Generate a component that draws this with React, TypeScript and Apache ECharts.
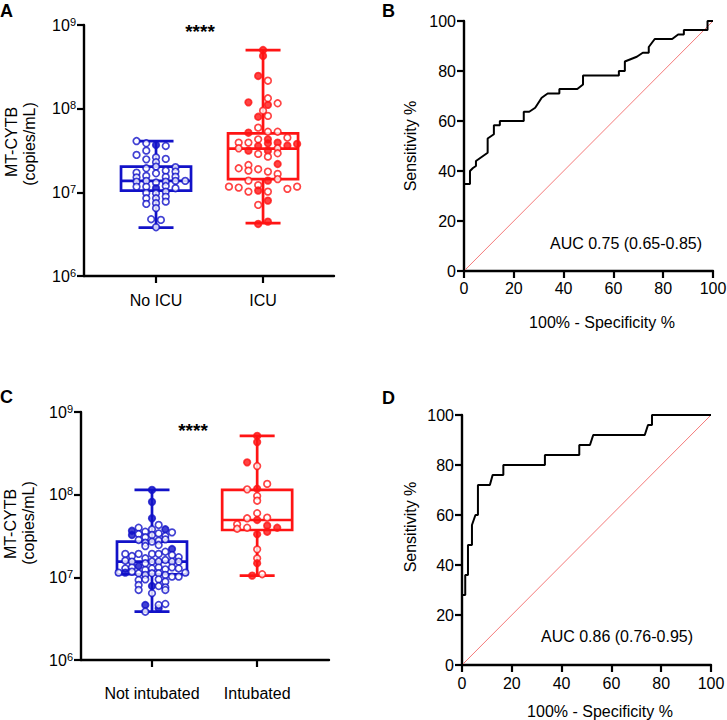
import React, { useEffect, useRef } from 'react';
import * as echarts from 'echarts';

const FONT = '"Liberation Sans", Arial, Helvetica, sans-serif';
const BLUE = '#1212c8';
const RED = '#ff1414';
const DIAG = '#f47a7a';

const catsA = ['No ICU', 'ICU'];
const catsC = ['Not intubated', 'Intubated'];

// box stats: [min, q1, median, q3, max]
const boxNoIcu = [3.78e6, 1.05e7, 1.37e7, 2.03e7, 4.1e7];
const boxIcu = [4.28e6, 1.44e7, 3.33e7, 5.08e7, 5.02e8];
const boxNotIntub = [3.84e6, 1.09e7, 1.55e7, 2.7e7, 1.14e8];
const boxIntub = [1.05e7, 3.74e7, 4.94e7, 1.14e8, 5.13e8];

// points: [column offset, copies/mL, filled (1) / open (0)]
const ptsNoIcu = [
  [-2, 4.1e7, 0], [-1, 3.86e7, 0], [0, 3.68e7, 1], [1, 3.58e7, 0], [-1, 3.15e7, 0],
  [-2, 2.8e7, 0], [-1, 2.48e7, 0], [0, 2.62e7, 0], [1, 2.51e7, 0], [0, 2.29e7, 0],
  [-1, 1.94e7, 0], [0, 2.03e7, 0], [1, 1.82e7, 0], [2, 2.0e7, 0], [-2, 1.72e7, 0],
  [0, 1.69e7, 0], [2, 1.77e7, 0], [-2, 1.51e7, 0], [-1, 1.57e7, 0], [1, 1.53e7, 0],
  [2, 1.54e7, 0], [-2, 1.34e7, 0], [-1, 1.37e7, 0], [0, 1.31e7, 0], [1, 1.34e7, 0],
  [2, 1.37e7, 0], [3, 1.37e7, 0], [-2, 1.17e7, 0], [-1, 1.17e7, 0], [0, 1.12e7, 1],
  [1, 1.19e7, 0], [2, 1.12e7, 0], [-1, 9.84e6, 0], [0, 9.75e6, 0], [1, 1.02e7, 0],
  [-1, 8.49e6, 0], [0, 8.49e6, 0], [1, 8.89e6, 0], [-1, 7.27e6, 0], [0, 7.42e6, 0],
  [1, 7.74e6, 0], [0, 6.46e6, 0], [-0.5, 4.77e6, 0], [0.5, 4.68e6, 0], [0, 3.83e6, 0],
];
const ptsIcu = [
  [0, 5.02e8, 1], [0, 4.27e8, 1], [-0.5, 2.46e8, 1], [0.5, 2.16e8, 0], [-1.5, 1.19e8, 1],
  [0.5, 1.33e8, 0], [0.5, 1.11e8, 1], [1.5, 1.16e8, 0], [0, 9.46e7, 0], [-0.5, 8.0e7, 1],
  [0.5, 8.2e7, 0], [-0.5, 5.93e7, 0], [-1.5, 5.16e7, 1], [0.5, 5.3e7, 0], [1.5, 5.3e7, 0],
  [-0.5, 4.3e7, 0], [0.5, 4.3e7, 1], [2.5, 4.5e7, 0], [-2.5, 3.93e7, 0], [-1.5, 3.93e7, 0],
  [-0.5, 3.58e7, 1], [0.5, 3.85e7, 1], [1.5, 3.93e7, 1], [2.5, 3.61e7, 1], [3.5, 3.79e7, 1],
  [-2.5, 3.36e7, 0], [-1.5, 3.15e7, 1], [0.5, 3.15e7, 1], [1.5, 3.36e7, 0], [-0.5, 2.88e7, 0],
  [0.5, 2.67e7, 0], [1.5, 2.93e7, 0], [-2.5, 1.94e7, 0], [-1.5, 2.12e7, 0], [-1.5, 1.82e7, 0],
  [-0.5, 1.89e7, 0], [0.5, 1.77e7, 0], [1.5, 2.18e7, 1], [1.5, 1.66e7, 0], [1.5, 1.44e7, 0],
  [-1.5, 1.38e7, 0], [-0.5, 1.22e7, 0], [0.5, 1.38e7, 1], [-3.5, 1.17e7, 0], [-2.5, 1.14e7, 0],
  [-1.5, 1.02e7, 0], [-0.5, 1.05e7, 1], [0.5, 1.02e7, 0], [2.5, 1.1e7, 0], [3.5, 1.17e7, 0],
  [-0.5, 7.07e6, 0], [0.5, 7.96e6, 1], [-0.5, 4.19e6, 1], [0.5, 4.46e6, 1],
];
const ptsNotIntub = [
  [0, 1.14e8, 1], [0, 8.2e7, 1], [0, 5.18e7, 1], [-3, 3.66e7, 1], [-2, 3.98e7, 0],
  [-1, 3.56e7, 0], [0, 3.81e7, 0], [1, 4.3e7, 0], [2, 3.81e7, 1], [3, 3.5e7, 0],
  [-3, 3.25e7, 1], [-2, 3.34e7, 0], [-1, 3.05e7, 0], [0, 3.25e7, 0], [1, 3.4e7, 0],
  [2, 3.16e7, 0], [-2, 2.83e7, 0], [-1, 2.62e7, 0], [0, 2.7e7, 0], [1, 2.78e7, 0],
  [2, 2.88e7, 0], [-1, 2.39e7, 0], [1, 2.46e7, 0], [3, 2.2e7, 1], [-4, 1.92e7, 0],
  [-3, 1.81e7, 0], [-2, 1.92e7, 0], [-1, 1.7e7, 0], [0, 1.92e7, 0], [1, 1.92e7, 0],
  [2, 2.04e7, 0], [3, 1.86e7, 0], [4, 1.75e7, 0], [-4, 1.59e7, 0], [-3, 1.55e7, 0],
  [-1, 1.48e7, 0], [0, 1.55e7, 0], [1, 1.55e7, 0], [2, 1.62e7, 0], [3, 1.55e7, 0],
  [4, 1.55e7, 0], [-4, 1.28e7, 0], [-3, 1.32e7, 0], [-2, 1.37e7, 1], [-1, 1.23e7, 0],
  [0, 1.28e7, 0], [1, 1.32e7, 0], [2, 1.25e7, 0], [3, 1.32e7, 0], [4, 1.28e7, 0],
  [-5, 1.14e7, 0], [-4, 1.14e7, 1], [-3, 1.17e7, 0], [-2, 1.12e7, 0], [-1, 1.07e7, 0],
  [0, 1.12e7, 0], [1, 1.12e7, 0], [2, 1.07e7, 0], [3, 1.02e7, 0], [4, 1.02e7, 0],
  [5, 1.14e7, 0], [-2, 9.29e6, 0], [-1, 9.46e6, 0], [1, 9.46e6, 0], [2, 8.86e6, 0],
  [-2, 8.07e6, 0], [0, 7.85e6, 1], [1, 7.85e6, 0], [2, 7.57e6, 0], [-2, 7.03e6, 0],
  [0, 6.42e6, 0], [2, 7.03e6, 0], [-1, 4.63e6, 1], [1, 4.22e6, 1], [1, 4.63e6, 0],
  [2, 4.76e6, 0], [-1, 3.84e6, 0],
];
const ptsIntub = [
  [0, 5.13e8, 1], [0, 4.33e8, 1], [-1.5, 2.46e8, 1], [0, 2.22e8, 0], [-1.5, 1.16e8, 0],
  [0, 1.18e8, 1], [1.5, 1.35e8, 0], [0, 9.64e7, 0], [0, 8.45e7, 0], [0, 5.96e7, 0],
  [-1.5, 5.18e7, 0], [1.5, 5.27e7, 0], [0, 4.94e7, 1], [-3, 4.38e7, 0], [-3, 3.87e7, 0],
  [-1.5, 3.98e7, 0], [1.5, 4.22e7, 1], [3, 3.98e7, 1], [1.5, 3.56e7, 1], [0, 3.32e7, 1],
  [0, 2.18e7, 0], [0, 1.7e7, 0], [0, 1.48e7, 1], [-0.75, 1.05e7, 1], [0.75, 1.09e7, 0],
];

// ROC curves: [100% - specificity, sensitivity]
const rocB = [
  [0, 0], [0, 34.8], [2.4, 34.8], [2.4, 40], [3.6, 41.2], [4.8, 42], [4.8, 44], [9.5, 47.3],
  [9.5, 53], [12, 54.7], [12, 58.3], [14.4, 58.3], [14.4, 60], [24, 60], [24, 63.7],
  [26.2, 63.7], [28.6, 65.3], [31.2, 69.3], [33.6, 71], [38.3, 71], [38.3, 72.8],
  [45.5, 72.8], [47.8, 74.6], [47.8, 78.2], [62.2, 78.2], [62.2, 80], [64.6, 80],
  [64.6, 83.8], [69.4, 85.7], [71.8, 87.3], [74.2, 87.3], [74.2, 89.6], [76.6, 92.8],
  [83.6, 92.8], [86, 94.6], [88.3, 94.6], [88.3, 96.4], [97.8, 96.4], [97.8, 100], [100, 100],
];
const rocD = [
  [0, 0], [0, 28], [1.3, 28], [1.3, 36], [2.4, 36], [2.4, 48], [4, 48], [4, 56], [5.4, 60],
  [6.4, 60], [6.4, 72], [11.2, 72], [12.3, 76], [16.6, 76], [16.6, 80], [33.3, 80],
  [33.3, 84], [47.1, 84], [47.1, 88], [51.4, 88], [52.7, 92], [73.4, 92], [74.7, 96],
  [76.3, 96], [76.3, 100], [100, 100],
];
const diagonal = [[0, 0], [100, 100]];
const aucB = 'AUC 0.75 (0.65-0.85)';
const aucD = 'AUC 0.86 (0.76-0.95)';

const SP_A = 0.091;
const SP_C = 0.0635;
const BOX_W = 70;
const CAP_W = 35;

const axisLine = { show: true, lineStyle: { color: '#000', width: 2.4 } };
const tick = (extra: any = {}) => ({ show: true, length: 7, lineStyle: { color: '#000', width: 2.2 }, ...extra });
const lbl = (extra: any = {}) => ({ color: '#000', fontSize: 16, fontFamily: FONT, ...extra });

function logAxis(gridIndex: number) {
  return {
    gridIndex, type: 'log', logBase: 10, min: 1e6, max: 1e9,
    axisLine, axisTick: tick(), minorTick: { show: false }, splitLine: { show: false },
    axisLabel: lbl({
      margin: 8,
      formatter: (v: number) => `{b|10}{s|${Math.round(Math.log10(v))}}`,
      rich: {
        b: { fontSize: 16, fontFamily: FONT, color: '#000', lineHeight: 18 },
        s: { fontSize: 11, fontFamily: FONT, color: '#000', verticalAlign: 'top', lineHeight: 11 },
      },
    }),
  };
}
function catAxis(gridIndex: number, min: number, max: number, cats: string[], margin: number) {
  return {
    gridIndex, type: 'value', min, max,
    axisLine, splitLine: { show: false },
    axisTick: tick({ customValues: [1, 2] }),
    axisLabel: lbl({ customValues: [1, 2], margin, formatter: (v: number) => cats[Math.round(v) - 1] }),
  };
}
function pctAxis(gridIndex: number, margin: number) {
  return {
    gridIndex, type: 'value', min: 0, max: 100, interval: 20,
    axisLine, axisTick: tick(), splitLine: { show: false },
    axisLabel: lbl({ margin }),
  };
}

function boxSeries(idx: number, boxes: number[][], colors: string[]) {
  return {
    type: 'custom', xAxisIndex: idx, yAxisIndex: idx, z: 2,
    data: boxes.map((b, i) => [i + 1, ...b]),
    renderItem: (params: any, api: any) => {
      const x = api.value(0);
      const lo = api.coord([x, api.value(1)]);
      const q1 = api.coord([x, api.value(2)]);
      const md = api.coord([x, api.value(3)]);
      const q3 = api.coord([x, api.value(4)]);
      const hi = api.coord([x, api.value(5)]);
      const cx = lo[0];
      const color = colors[params.dataIndex];
      const st = { stroke: color, lineWidth: 2.7, fill: 'none' };
      return {
        type: 'group',
        children: [
          { type: 'line', shape: { x1: cx, y1: hi[1], x2: cx, y2: q3[1] }, style: st },
          { type: 'line', shape: { x1: cx, y1: q1[1], x2: cx, y2: lo[1] }, style: st },
          { type: 'line', shape: { x1: cx - CAP_W / 2, y1: hi[1], x2: cx + CAP_W / 2, y2: hi[1] }, style: st },
          { type: 'line', shape: { x1: cx - CAP_W / 2, y1: lo[1], x2: cx + CAP_W / 2, y2: lo[1] }, style: st },
          { type: 'rect', shape: { x: cx - BOX_W / 2, y: q3[1], width: BOX_W, height: q1[1] - q3[1] }, style: st },
          { type: 'line', shape: { x1: cx - BOX_W / 2, y1: md[1], x2: cx + BOX_W / 2, y2: md[1] }, style: st },
        ],
      };
    },
  };
}

function pointSeries(idx: number, pts: number[][], pos: number, sp: number, color: string) {
  return {
    type: 'scatter', xAxisIndex: idx, yAxisIndex: idx, z: 3,
    symbol: 'circle', symbolSize: 6.6,
    data: pts.map((p) => ({
      value: [pos + p[0] * sp, p[1]],
      itemStyle: { color: p[2] ? color : '#fff', borderColor: color, borderWidth: 1.7 },
    })),
  };
}

function rocSeries(idx: number, data: number[][]) {
  return [
    { type: 'line', xAxisIndex: idx, yAxisIndex: idx, data: diagonal, symbol: 'none', z: 2,
      lineStyle: { color: DIAG, width: 1 } },
    { type: 'line', xAxisIndex: idx, yAxisIndex: idx, data, symbol: 'none', z: 3,
      lineStyle: { color: '#000', width: 2 } },
  ];
}

function txt(text: string, x: number, y: number, extra: any = {}, rotation = 0) {
  return {
    type: 'text', x, y, rotation,
    style: { text, fontSize: 16, fontFamily: FONT, fill: '#000', align: 'center', verticalAlign: 'middle', ...extra },
  };
}

const letter = { fontSize: 18, fontWeight: 'bold', align: 'left', verticalAlign: 'top' };

export default function App() {
  const ref = useRef<HTMLDivElement>(null);
  useEffect(() => {
    if (!ref.current) return;
    const chart = echarts.init(ref.current, null, { renderer: 'svg' });
    const option: any = {
      animation: false,
      backgroundColor: '#fff',
      grid: [
        { left: 84, top: 25, width: 250, height: 251, outerBoundsMode: 'none' },
        { left: 464, top: 21, width: 249, height: 250, outerBoundsMode: 'none' },
        { left: 81, top: 412, width: 248, height: 248, outerBoundsMode: 'none' },
        { left: 462, top: 415, width: 249, height: 250, outerBoundsMode: 'none' },
      ],
      xAxis: [
        catAxis(0, 0.327, 2.663, catsA, 16),
        pctAxis(1, 9),
        catAxis(2, 0.325, 2.683, catsC, 25),
        pctAxis(3, 10),
      ],
      yAxis: [logAxis(0), pctAxis(1, 8), logAxis(2), pctAxis(3, 8)],
      series: [
        boxSeries(0, [boxNoIcu, boxIcu], [BLUE, RED]),
        pointSeries(0, ptsNoIcu, 1, SP_A, BLUE),
        pointSeries(0, ptsIcu, 2, SP_A, RED),
        ...rocSeries(1, rocB),
        boxSeries(2, [boxNotIntub, boxIntub], [BLUE, RED]),
        pointSeries(2, ptsNotIntub, 1, SP_C, BLUE),
        pointSeries(2, ptsIntub, 2, SP_C, RED),
        ...rocSeries(3, rocD),
      ],
      graphic: [
        txt('A', 0, 2, letter),
        txt('B', 382, 2, letter),
        txt('C', 0, 388, letter),
        txt('D', 382, 389, letter),
        txt('****', 200, 31, { fontSize: 19, fontWeight: 'bold' }),
        txt('****', 193, 430, { fontSize: 19, fontWeight: 'bold' }),
        txt('MT-CYTB', 11.5, 142, {}, Math.PI / 2),
        txt('(copies/mL)', 29, 144, {}, Math.PI / 2),
        txt('MT-CYTB', 10.5, 524, {}, Math.PI / 2),
        txt('(copies/mL)', 28, 523, {}, Math.PI / 2),
        txt('Sensitivity %', 410, 146, {}, Math.PI / 2),
        txt('Sensitivity %', 410, 527, {}, Math.PI / 2),
        txt('100% - Specificity %', 602, 322, {}),
        txt('100% - Specificity %', 600, 711, {}),
        txt(aucB, 626, 243, {}),
        txt(aucD, 617, 636, {}),
      ],
    };
    chart.setOption(option);
    return () => chart.dispose();
  }, []);
  return <div ref={ref} style={{ position: 'fixed', left: 0, top: 0, width: 727, height: 720 }} />;
}
